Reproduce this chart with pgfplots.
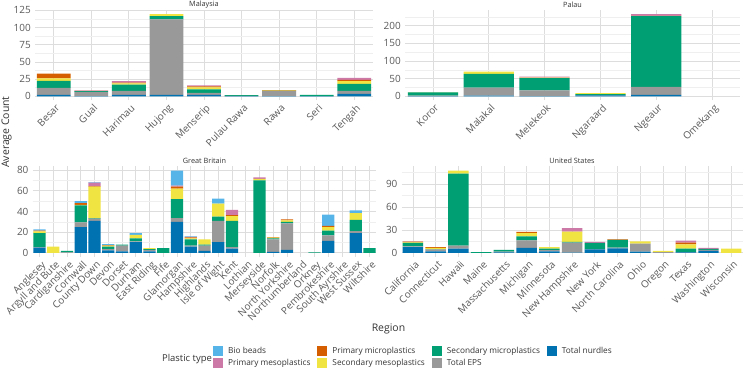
\documentclass[border=0pt]{standalone}
\usepackage{pgfplots}
\pgfplotsset{compat=1.18}
\usepackage{pgfplotstable}
\usepackage{fontspec}
\setmainfont{Open Sans}
\definecolor{cBio}{HTML}{56B4E9}
\definecolor{cPmes}{HTML}{CC79A7}
\definecolor{cPmic}{HTML}{D55E00}
\definecolor{cSmes}{HTML}{F0E442}
\definecolor{cSmic}{HTML}{009E73}
\definecolor{cEps}{HTML}{999999}
\definecolor{cNurd}{HTML}{0072B2}
\definecolor{tickc}{HTML}{5A5A5A}
\definecolor{titc}{HTML}{333333}
\definecolor{gridmaj}{HTML}{DDDDDD}
\definecolor{gridmin}{HTML}{EFEFEF}

\pgfplotstableread{
x nurd eps smic smes pmic pmes bio
0 2 10.5 10 3.5 7 0 0
1 0.5 6 1.2 0.3 0 0.8 0
2 2 6 9 2 1 2 0
3 2 110 4.5 3 0 0 0
4 2 3 5 3 1.5 1.5 0
5 0.3 0.5 1 0 0 0 0
6 0.5 7 0.5 0.5 0.7 0 0
7 0.3 0 2 0 0 0 0
8 3.5 4.5 10 4 2 3 0
}\malaysia

\pgfplotstableread{
x nurd eps smic smes pmic pmes bio
0 0.5 2 9 0.5 0 0 0
1 2 23 39 6 0 0 0
2 1 16 35 1 0 3 0
3 3 0.5 3 2.5 0 0 0
4 4 23 200 1 0 5 0
5 0 0 0 0 0 0 0
}\palau

\pgfplotstableread{
x nurd eps smic smes pmic pmes bio
0 5 0.5 13.5 1.7 0.7 0 1.2
1 0 0 0 6 0 0 0
2 0 0.5 1.5 0 0 0 0
3 25 4.5 16.5 0.5 1.5 0 2
4 31 2 0.5 30.5 0.5 3.5 0.5
5 2.5 1 2.5 1 0.5 0 1
6 1.5 5.5 1 0 0 0 0
7 10.5 0.5 3 3.5 0 0 1.5
8 1.5 1.5 0.7 0.8 0 0 0
9 0 0 4.5 0 0 0 0
10 30 3.5 18.5 10 2 1 14.5
11 6 1 6 1 1 0.5 0.5
12 2 5 1 5 0 0 0
13 10.5 20.5 4 12.5 0 0 5
14 4 1.5 25.5 4.5 1 5 0
15 0 0 0 0 0 0 0
16 0 0 70 1.5 0 1.5 0
17 1 12 1 0.7 0.5 0 0
18 3 25.5 1.5 1.4 1 0 0
19 0 0 0 0 0 0 0
20 0 0 0.5 0 0 0 0
21 11.5 5.5 4.5 3.5 1 0 11
22 0 0 0 0 0 0 0
23 19 2 11 6.5 0 0 2.5
24 0 0 4.5 0 0 0 0
}\gb

\pgfplotstableread{
x nurd eps smic smes pmic pmes bio
0 7.5 1 4.5 0.7 1 0.5 0
1 2 2.5 0.5 1.5 1 0 0
2 5.5 4 94.5 3.8 0 0 0
3 0 0 1 0 0 0 0
4 0.5 1 2.5 0 0 0 0
5 6.5 10 5 4.5 1.5 0 0
6 2 1.5 2 2 0 0 0
7 0.3 13.2 0.8 13.5 0 4.5 0
8 4.5 0.5 8 0 0 1.5 0
9 6 1 10 0 0.8 0 0
10 1.5 10.5 0 3.2 0 0 0
11 0 1 0 1.5 0 0 0
12 0.5 0.5 4.5 5.5 2.5 2.5 0
13 2.5 1.5 1.2 0 0 1.3 0
14 0 0 0 5.7 0 0 0
}\us

\pgfplotsset{
  facet/.style={
    scale only axis, height=90.5bp, anchor=south west,
    ybar stacked, bar width=0.9,
    axis line style={draw=none},
    major tick length=0pt, minor tick length=0pt,
    xmajorgrids, ymajorgrids, yminorgrids,
    major grid style={color=gridmaj, line width=0.8bp},
    minor grid style={color=gridmin, line width=0.6bp},
    ticklabel style={font=\fontsize{10}{12}\selectfont, text=tickc},
    xticklabel style={rotate=45, anchor=north east, inner sep=1bp, yshift=-2bp},
    yticklabel style={inner sep=1bp, xshift=-3bp},
    /pgf/number format/assume math mode=true,
    every axis plot/.append style={draw=none},
  },
}

\newcommand{\stackbars}[1]{%
  \addplot[fill=cNurd] table[x=x,y=nurd] {#1};
  \addplot[fill=cEps] table[x=x,y=eps] {#1};
  \addplot[fill=cSmic] table[x=x,y=smic] {#1};
  \addplot[fill=cSmes] table[x=x,y=smes] {#1};
  \addplot[fill=cPmic] table[x=x,y=pmic] {#1};
  \addplot[fill=cPmes] table[x=x,y=pmes] {#1};
  \addplot[fill=cBio] table[x=x,y=bio] {#1};
}

\begin{document}
\begin{tikzpicture}
\useasboundingbox (0,0) rectangle (746bp,373bp);

% Malaysia
\begin{axis}[facet, at={(35bp,272.5bp)}, width=338bp,
  xmin=-0.5, xmax=8.5, ymin=-6, ymax=125.5,
  xtick={0,...,8},
  xticklabels={Besar,Gual,Harimau,Hujong,Menserip,Pulau Rawa,Rawa,Seri,Tengah},
  ytick={0,25,50,75,100,125}, minor ytick={12.5,37.5,62.5,87.5,112.5}]
\stackbars{\malaysia}
\end{axis}

% Palau
\begin{axis}[facet, at={(405bp,272.5bp)}, width=335bp,
  xmin=-0.5, xmax=5.5, ymin=-11.65, ymax=244.65,
  xtick={0,...,5},
  xticklabels={Koror,Malakal,Melekeok,Ngaraard,Ngeaur,Omekang},
  ytick={0,50,100,150,200}, minor ytick={25,75,125,175,225}]
\stackbars{\palau}
\end{axis}

% Great Britain
\begin{axis}[facet, at={(32.6bp,116bp)}, width=343.8bp,
  xmin=-0.5, xmax=24.5, ymin=-4, ymax=83.5,
  xtick={0,...,24},
  xticklabels={Anglesey,Argyll and Bute,Cardiganshire,Cornwall,County Down,Devon,Dorset,Durham,East Riding,Fife,Glamorgan,Hampshire,Highlands,Isle of Wight,Kent,Lothian,Merseyside,Norfolk,North Yorkshire,Northumberland,Orkney,Pembrokeshire,South Ayrshire,West Sussex,Wiltshire},
  ytick={0,20,40,60,80}, minor ytick={10,30,50,70}]
\stackbars{\gb}
\end{axis}

% United States
\begin{axis}[facet, at={(401.6bp,116bp)}, width=341bp,
  xmin=-0.5, xmax=14.5, ymin=-5.4, ymax=113.2,
  xtick={0,...,14},
  xticklabels={California,Connecticut,Hawaii,Maine,Massachusetts,Michigan,Minnesota,New Hampshire,New York,North Carolina,Ohio,Oregon,Texas,Washington,Wisconsin},
  ytick={0,30,60,90}, minor ytick={15,45,75,105}]
\stackbars{\us}
\end{axis}

% strip titles
\node[font=\fontsize{7.3}{9}\selectfont, text=titc] at (204bp,368bp) {Malaysia};
\node[font=\fontsize{7.3}{9}\selectfont, text=titc] at (572.5bp,368bp) {Palau};
\node[font=\fontsize{7.3}{9}\selectfont, text=titc] at (204.5bp,212.3bp) {Great Britain};
\node[font=\fontsize{7.3}{9}\selectfont, text=titc] at (572bp,212.3bp) {United States};

% axis titles
\node[font=\fontsize{10.5}{12}\selectfont, text=titc, rotate=90] at (6.5bp,241bp) {Average Count};
\node[font=\fontsize{10.5}{12}\selectfont, text=titc] at (388.5bp,44bp) {Region};
\node[font=\fontsize{9.5}{11}\selectfont, text=titc] at (187bp,14bp) {Plastic type};

% legend
\begin{axis}[hide axis, scale only axis, width=10bp, height=10bp,
  at={(213bp,27.5bp)}, anchor=north west,
  xmin=0, xmax=1, ymin=0, ymax=1,
  legend columns=4,
  legend cell align=left,
  legend image code/.code={\fill[#1] (0bp,-4.5bp) rectangle (10bp,5.5bp);},
  legend style={at={(0,1)}, anchor=north west, draw=none, fill=none,
    font=\fontsize{8.3}{10}\selectfont, text=titc, inner sep=0pt,
    nodes={inner sep=1.5bp}, row sep=1bp,
    /tikz/every odd column/.append style={column sep=3.5bp},
    /tikz/every even column/.append style={column sep=5.5bp}}]
\addlegendimage{fill=cBio, draw=none}
\addlegendentry{Bio beads}
\addlegendimage{fill=cPmic, draw=none}
\addlegendentry{Primary microplastics}
\addlegendimage{fill=cSmic, draw=none}
\addlegendentry{Secondary microplastics}
\addlegendimage{fill=cNurd, draw=none}
\addlegendentry{Total nurdles}
\addlegendimage{fill=cPmes, draw=none}
\addlegendentry{Primary mesoplastics}
\addlegendimage{fill=cSmes, draw=none}
\addlegendentry{Secondary mesoplastics}
\addlegendimage{fill=cEps, draw=none}
\addlegendentry{Total EPS}
\end{axis}
\end{tikzpicture}
\end{document}
